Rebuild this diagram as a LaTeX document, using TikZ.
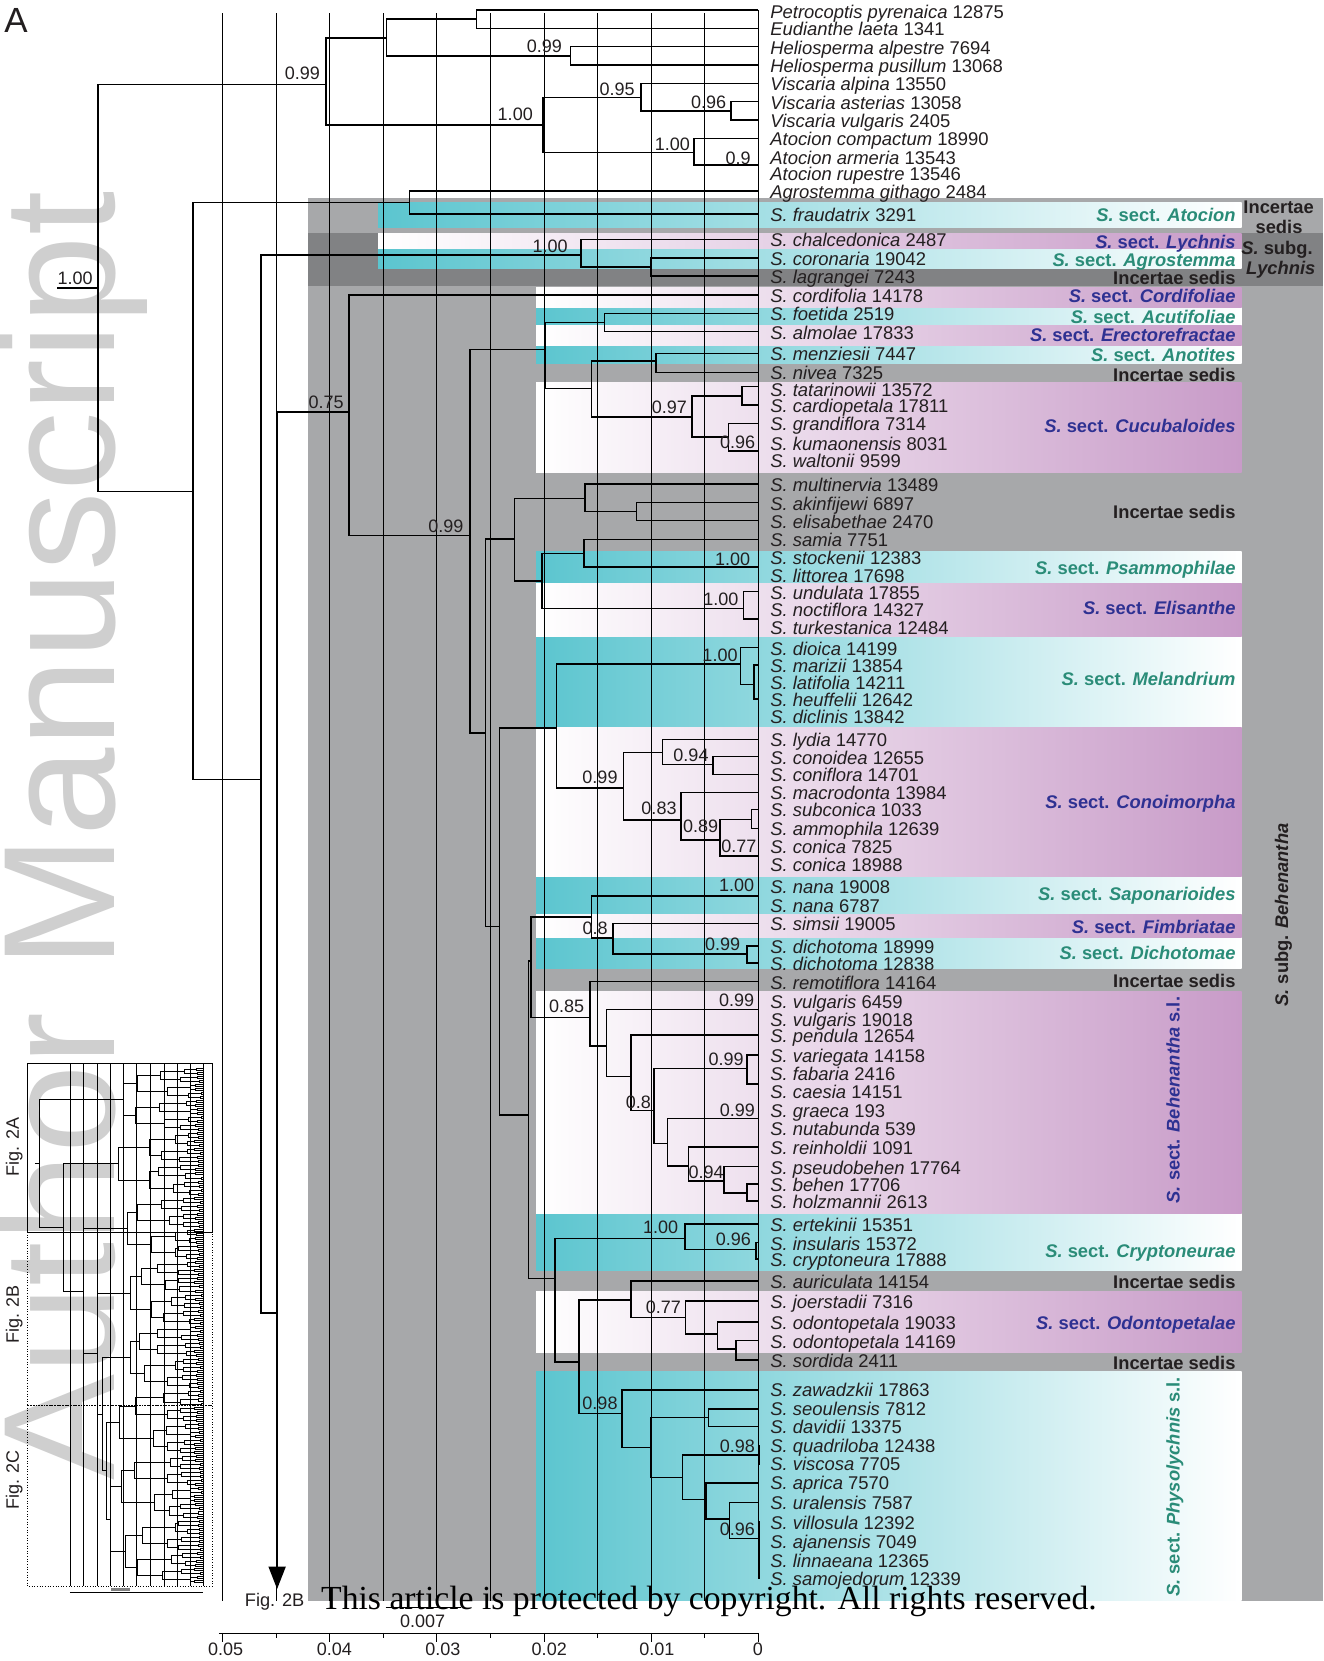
\documentclass[tikz,border=0pt]{standalone}
\usepackage{fontspec}
\setmainfont{Liberation Sans}
\newfontfamily\crserif{Liberation Serif}
\usetikzlibrary{arrows.meta}
\definecolor{lgray}{RGB}{167,168,170}
\definecolor{dgray}{RGB}{129,130,132}
\definecolor{cyanb}{RGB}{91,197,207}
\definecolor{purpb}{RGB}{200,155,200}
\definecolor{tealt}{RGB}{42,140,120}
\definecolor{bluet}{RGB}{46,49,146}
\definecolor{txt}{RGB}{35,31,32}
\definecolor{wm}{RGB}{207,207,207}
\newcommand\fs[1]{\fontsize{#1}{#1}\selectfont}
\pgfmathdeclarefunction{hr}{2}{\begingroup\pgfmathparse{mod(abs(sin(#1*57.29+#2*23.17))*997.3,1)}\pgfmathsmuggle\pgfmathresult\endgroup}
\pgfmathdeclarefunction{insa}{1}{\begingroup\pgfmathparse{183+7*hr(#1,1)}\pgfmathsmuggle\pgfmathresult\endgroup}
\pgfmathdeclarefunction{insb}{1}{\begingroup\pgfmathparse{168+12*hr(#1,2)}\pgfmathsmuggle\pgfmathresult\endgroup}
\pgfmathdeclarefunction{insc}{1}{\begingroup\pgfmathparse{148+18*hr(#1,3)}\pgfmathsmuggle\pgfmathresult\endgroup}
\pgfmathdeclarefunction{insd}{1}{\begingroup\pgfmathparse{126+20*hr(#1,4)}\pgfmathsmuggle\pgfmathresult\endgroup}
\pgfmathdeclarefunction{inse}{1}{\begingroup\pgfmathparse{110+14*hr(#1,5)}\pgfmathsmuggle\pgfmathresult\endgroup}
\begin{document}
\begin{tikzpicture}[x=1pt,y=-1pt,
  br/.style={line width=1.5pt},
  gline/.style={line width=0.75pt},
  leaf/.style={anchor=base west, inner sep=0pt, font=\fs{17.4}, text=txt},
  pp/.style={inner sep=0pt, font=\fs{17}, text=txt},
  sect/.style={anchor=base east, inner sep=0pt, font=\fs{17.3}\bfseries},
  inl/.style={line width=0.5pt},
]
\useasboundingbox (0,0) rectangle (1249,1568);
\fill[white] (0,0) rectangle (1249,1568);
% watermark
\node[rotate=90, anchor=base west, inner sep=0pt, text=wm, font=\fs{150}] (wmark) at (108,1398) {Author Manuscript};
% backgrounds
\fill[lgray] (291,187) rectangle (1249,1511);
\fill[dgray] (291,220) rectangle (1249,270);
\shade[left color=cyanb, right color=white] (357,191) rectangle (1172,215);
\shade[left color=white, right color=purpb] (357,220) rectangle (1172,236);
\shade[left color=cyanb, right color=white] (357,236) rectangle (1172,253);
\foreach \a/\b in {290/307.5, 326/343, 521/551, 600.5/687, 827/863, 885/914.5, 1146/1199, 1295/1511}
  \shade[left color=cyanb, right color=white] (506,\a) rectangle (1172,\b);
\foreach \a/\b in {271/290, 307.5/326, 361.5/446.5, 551/600.5, 687/827, 863/885, 936/1146, 1219/1277}
  \shade[left color=white, right color=purpb] (506,\a) rectangle (1172,\b);
% grid lines
\foreach \x in {210,260.6,311.2,361.8,412.4,463,513.6,564.2,614.8,665.4}
  \draw[gline] (\x,12.6) -- (\x,1511);
\draw[gline] (716,9.4) -- (716,1490);
% leaves
\foreach \i/\y/\dy/\nm/\nb in {
1/9.4/8.5/Petrocoptis pyrenaica/12875, 2/26.8/7/Eudianthe laeta/1341, 3/44/7/Heliosperma alpestre/7694,
4/61.4/7/Heliosperma pusillum/13068, 5/78.7/7/Viscaria alpina/13550, 6/96/7/Viscaria asterias/13058,
7/113.3/7/Viscaria vulgaris/2405, 8/130.6/7/Atocion compactum/18990, 9/148/7/Atocion armeria/13543,
10/163.7/7/Atocion rupestre/13546, 11/180.3/7/Agrostemma githago/2484, 12/202/7/S. fraudatrix/3291,
13/226/7/S. chalcedonica/2487, 14/243.3/7/S. coronaria/19042, 15/260.5/7/S. lagrangei/7243,
16/278.5/7/S. cordifolia/14178, 17/295.8/7/S. foetida/2519, 18/313.1/7/S. almolae/17833,
19/333.6/7/S. menziesii/7447, 20/351.5/7/S. nivea/7325, 21/365/9/S. tatarinowii/13572,
22/382.3/7/S. cardiopetala/17811, 23/399.6/7/S. grandiflora/7314, 24/418/7/S. kumaonensis/8031,
25/434/7/S. waltonii/9599, 26/457/7/S. multinervia/13489, 27/474.5/7/S. akinfijewi/6897,
28/491.5/7/S. elisabethae/2470, 29/509.2/7/S. samia/7751, 30/526/7/S. stockenii/12383,
31/543/7/S. littorea/17698, 32/558.5/7/S. undulata/17855, 33/575/7/S. noctiflora/14327,
34/592/7/S. turkestanica/12484, 35/611.4/7/S. dioica/14199, 36/627.8/7/S. marizii/13854,
37/644/7/S. latifolia/14211, 38/660/7/S. heuffelii/12642, 39/676/7/S. diclinis/13842,
40/698/7/S. lydia/14770, 41/714.3/7/S. conoidea/12655, 42/731/7/S. coniflora/14701,
43/748/7/S. macrodonta/13984, 44/764/7/S. subconica/1033, 45/782/7/S. ammophila/12639,
46/799/7/S. conica/7825, 47/816/7/S. conica/18988, 48/836/7/S. nana/19008,
49/854/7/S. nana/6787, 50/871.7/7/S. simsii/19005, 51/892.8/7/S. dichotoma/18999,
52/908.8/7/S. dichotoma/12838, 53/926.7/7/S. remotiflora/14164, 54/945/7/S. vulgaris/6459,
55/962/7/S. vulgaris/19018, 56/977/7/S. pendula/12654, 57/996/7/S. variegata/14158,
58/1013/7/S. fabaria/2416, 59/1030/7/S. caesia/14151, 60/1048/7/S. graeca/193,
61/1065/7/S. nutabunda/539, 62/1083/7/S. reinholdii/1091, 63/1101.3/7/S. pseudobehen/17764,
64/1117.7/7/S. behen/17706, 65/1133.5/7/S. holzmannii/2613, 66/1155.5/7/S. ertekinii/15351,
67/1173.1/7/S. insularis/15372, 68/1188.5/7/S. cryptoneura/17888, 69/1209.3/7/S. auriculata/14154,
70/1227.9/7/S. joerstadii/7316, 71/1247.7/7/S. odontopetala/19033, 72/1265.6/7/S. odontopetala/14169,
73/1283.9/7/S. sordida/2411, 74/1312.2/6.5/S. zawadzkii/17863, 75/1330.1/6.5/S. seoulensis/7812,
76/1346.8/6.5/S. davidii/13375, 77/1365/6.5/S. quadriloba/12438, 78/1382/6.5/S. viscosa/7705,
79/1399.7/6.5/S. aprica/7570, 80/1418.2/6.5/S. uralensis/7587, 81/1437/6.5/S. villosula/12392,
82/1455/6.5/S. ajanensis/7049, 83/1473/6.5/S. linnaeana/12365, 84/1490/6.5/S. samojedorum/12339}{
  \coordinate (l\i) at (716,\y);
  \node[leaf] (t\i) at (727,\y+\dy) {\textit{\nm} \nb};
}
% internal nodes
\coordinate (R) at (92.5,272);
\coordinate (Rs) at (54,272);
\coordinate (A1) at (307.5,79.6);
\coordinate (A2) at (364.7,35.6);
\coordinate (A3) at (450,18);
\coordinate (A4) at (538.6,52.6);
\coordinate (A5) at (512.6,118);
\coordinate (A6) at (605,91.9);
\coordinate (A7) at (690,104.8);
\coordinate (A8) at (655.3,144);
\coordinate (A9) at (716,156);
\coordinate (B1) at (182,464);
\coordinate (B2) at (386.7,191);
\coordinate (C1) at (246.5,736);
\coordinate (C2) at (548.2,240.7);
\coordinate (C3) at (614,251.8);
\coordinate (C4) at (261.6,1239.6);
\coordinate (arrtip) at (261.6,1500);
\coordinate (D1) at (329.5,389);
\coordinate (D2) at (443.7,505.7);
\coordinate (E1) at (514.5,329.8);
\coordinate (E2) at (570.5,304.6);
\coordinate (E3) at (558.5,366.6);
\coordinate (E4) at (619,340.8);
\coordinate (E5) at (653,393.4);
\coordinate (E6) at (700.2,373.8);
\coordinate (E7) at (687.6,412.8);
\coordinate (E8) at (716,425.8);
\coordinate (F1) at (458.2,691.7);
\coordinate (F2) at (485.6,509);
\coordinate (F3) at (552.3,470.4);
\coordinate (F4) at (601,483);
\coordinate (F5) at (511.4,548.5);
\coordinate (F6) at (551.3,522.4);
\coordinate (F7) at (716,535);
\coordinate (F8) at (701.7,574.3);
\coordinate (F9) at (716,584.4);
\coordinate (G1) at (471.4,874.8);
\coordinate (G2) at (525.5,687);
\coordinate (G3) at (699.2,627);
\coordinate (G4) at (711.8,646);
\coordinate (G5) at (716,660);
\coordinate (G6) at (588.5,743.6);
\coordinate (G7) at (625.3,710.2);
\coordinate (G8) at (672.8,721.5);
\coordinate (G9) at (643,774.1);
\coordinate (G10) at (679.7,793);
\coordinate (G11) at (709.6,773.5);
\coordinate (G12) at (716,808);
\coordinate (H1) at (498.8,1052.6);
\coordinate (H2) at (501.3,907.2);
\coordinate (H3) at (558.5,865.4);
\coordinate (H4) at (716,845.6);
\coordinate (H5) at (578.4,885.2);
\coordinate (H6) at (704.9,900.6);
\coordinate (I1) at (557,960.4);
\coordinate (I2) at (572.7,987.2);
\coordinate (I3) at (716,952.8);
\coordinate (I4) at (595.7,1016.4);
\coordinate (I5) at (617.4,1048.5);
\coordinate (I6) at (704.9,1008.5);
\coordinate (I7) at (716,1023.4);
\coordinate (I8) at (630.3,1079.3);
\coordinate (I9) at (716,1055.7);
\coordinate (I10) at (649.8,1100.7);
\coordinate (I11) at (683.5,1114.6);
\coordinate (I12) at (704.9,1126);
\coordinate (K1) at (524,1206.8);
\coordinate (K2) at (646.7,1169);
\coordinate (K3) at (713.7,1179.4);
\coordinate (L1) at (546.6,1285.5);
\coordinate (L2) at (595.7,1227.3);
\coordinate (L3) at (647.3,1243.6);
\coordinate (L4) at (677.5,1259.3);
\coordinate (L5) at (694.8,1273.2);
\coordinate (M1) at (586.9,1334.2);
\coordinate (M2) at (614.2,1366.6);
\coordinate (M3) at (668.7,1338.3);
\coordinate (M4) at (644.2,1394.6);
\coordinate (M5) at (716.5,1373.6);
\coordinate (M6) at (666.5,1415.4);
\coordinate (M7) at (688.5,1434);
\coordinate (M8) at (716.5,1452.2);
% branches
\foreach \c/\p in {A1/R,B1/R,A2/A1,A5/A1,A3/A2,A4/A2,l1/A3,l2/A3,l3/A4,l4/A4,
  A6/A5,A8/A5,l5/A6,A7/A6,l6/A7,l7/A7,l8/A8,A9/A8,l9/A9,l10/A9,
  B2/B1,C1/B1,l11/B2,l12/B2,C2/C1,C4/C1,l13/C2,C3/C2,l14/C3,l15/C3,D1/C4,
  l16/D1,D2/D1,E1/D2,F1/D2,E2/E1,E3/E1,l17/E2,l18/E2,E4/E3,E5/E3,l19/E4,l20/E4,
  E6/E5,E7/E5,l21/E6,l22/E6,l23/E7,E8/E7,l24/E8,l25/E8,
  F2/F1,G1/F1,F3/F2,F5/F2,l26/F3,F4/F3,l27/F4,l28/F4,F6/F5,F8/F5,l29/F6,F7/F6,
  l30/F7,l31/F7,l32/F8,F9/F8,l33/F9,l34/F9,
  G2/G1,H1/G1,G3/G2,G6/G2,l35/G3,G4/G3,l36/G4,G5/G4,l37/G5,l38/G5,l39/G5,
  G7/G6,G9/G6,l40/G7,G8/G7,l41/G8,l42/G8,l43/G9,G10/G9,G11/G10,G12/G10,
  l44/G11,l45/G11,l46/G12,l47/G12,
  H2/H1,K1/H1,H3/H2,I1/H2,H4/H3,H5/H3,l48/H4,l49/H4,l50/H5,H6/H5,l51/H6,l52/H6,
  l53/I1,I2/I1,I3/I2,I4/I2,l54/I3,l55/I3,l56/I4,I5/I4,I6/I5,I8/I5,l57/I6,I7/I6,
  l58/I7,l59/I7,I9/I8,I10/I8,l60/I9,l61/I9,l62/I10,I11/I10,l63/I11,I12/I11,
  l64/I12,l65/I12,
  K2/K1,L1/K1,l66/K2,K3/K2,l67/K3,l68/K3,L2/L1,M1/L1,l69/L2,L3/L2,l70/L3,L4/L3,
  l71/L4,L5/L4,l72/L5,l73/L5,
  l74/M1,M2/M1,M3/M2,M4/M2,l75/M3,l76/M3,M5/M4,M6/M4,l77/M5,l78/M5,
  l79/M6,M7/M6,l80/M7,M8/M7,l81/M8,l82/M8,l83/M8,l84/M8}
  \draw[br] (\c) -| (\p);
\draw[br] (Rs) -- (R);
\draw[br,-{Triangle[length=21pt,width=16pt]}] (C4) -- (arrtip);
% support values
\foreach \x/\y/\t in {70.9/262.8/1.00, 285.5/69.2/0.99, 513.9/44/0.99, 582.5/84.3/0.95,
  486.4/107.6/1.00, 669/96.6/0.96, 634.7/135.9/1.00, 696.9/149.5/0.9, 519.4/232.9/1.00,
  307.8/380.1/0.75, 631.9/384.5/0.97, 696.4/417.6/0.96, 421/497.2/0.99, 691.7/528/1.00,
  680.6/565.8/1.00, 679.7/618.3/1.00, 652.3/713/0.94, 566.4/733.8/0.99, 622.1/763.4/0.83,
  661.4/780.4/0.89, 697.6/799.3/0.77, 695.4/836.1/1.00, 561.7/876.4/0.8, 682.2/891.5/0.99,
  535/950.3/0.85, 695.4/944.7/0.99, 685.4/1000/0.99, 602.6/1041/0.8, 696/1047.9/0.99,
  666.5/1106.7/0.94, 623.7/1159/1.00, 692.3/1170/0.96, 626.2/1234.5/0.77,
  566.4/1324.8/0.98, 696/1365/0.98, 696/1443.4/0.96}
  \node[pp] at (\x,\y) {\t};
% section labels
\node[sect,text=tealt] (s1) at (1166.5,209.2) {\textit{S.} sect. \textit{Atocion}};
\node[sect,text=bluet] (s2) at (1166.5,234.2) {\textit{S.} sect. \textit{Lychnis}};
\node[sect,text=tealt] (s3) at (1166.5,251.2) {\textit{S.} sect. \textit{Agrostemma}};
\node[sect,text=txt] (s4) at (1166.5,269) {Incertae sedis};
\node[sect,text=bluet] (s5) at (1166.5,285.7) {\textit{S.} sect. \textit{Cordifoliae}};
\node[sect,text=tealt] (s6) at (1166.5,305.1) {\textit{S.} sect. \textit{Acutifoliae}};
\node[sect,text=bluet] (s7) at (1166.5,322.4) {\textit{S.} sect. \textit{Erectorefractae}};
\node[sect,text=tealt] (s8) at (1166.5,341.2) {\textit{S.} sect. \textit{Anotites}};
\node[sect,text=txt] (s9) at (1166.5,360.2) {Incertae sedis};
\node[sect,text=bluet] (s10) at (1166.5,408.3) {\textit{S.} sect. \textit{Cucubaloides}};
\node[sect,text=txt] (s11) at (1166.5,489.8) {Incertae sedis};
\node[sect,text=tealt] (s12) at (1166.5,542.7) {\textit{S.} sect. \textit{Psammophilae}};
\node[sect,text=bluet] (s13) at (1166.5,580.5) {\textit{S.} sect. \textit{Elisanthe}};
\node[sect,text=tealt] (s14) at (1166.5,647.5) {\textit{S.} sect. \textit{Melandrium}};
\node[sect,text=bluet] (s15) at (1166.5,763) {\textit{S.} sect. \textit{Conoimorpha}};
\node[sect,text=tealt] (s16) at (1166.5,850.1) {\textit{S.} sect. \textit{Saponarioides}};
\node[sect,text=bluet] (s17) at (1166.5,881.6) {\textit{S.} sect. \textit{Fimbriatae}};
\node[sect,text=tealt] (s18) at (1166.5,906.2) {\textit{S.} sect. \textit{Dichotomae}};
\node[sect,text=txt] (s19) at (1166.5,932.3) {Incertae sedis};
\node[sect,text=tealt] (s20) at (1166.5,1186.8) {\textit{S.} sect. \textit{Cryptoneurae}};
\node[sect,text=txt] (s21) at (1166.5,1216.1) {Incertae sedis};
\node[sect,text=bluet] (s22) at (1166.5,1255.4) {\textit{S.} sect. \textit{Odontopetalae}};
\node[sect,text=txt] (s23) at (1166.5,1293.2) {Incertae sedis};
\node[rotate=90,inner sep=0pt,font=\fs{17.3}\bfseries,text=bluet] (s24) at (1107.4,1038.5) {\textit{S.} sect. \textit{Behenantha} s.l.};
\node[rotate=90,inner sep=0pt,font=\fs{17.3}\bfseries,text=tealt] (s25) at (1109.2,1403.5) {\textit{S.} sect. \textit{Physolychnis} s.l.};
% right column
\node[anchor=base,inner sep=0pt,font=\fs{17.3}\bfseries,text=txt] (r1) at (1207,201.2) {Incertae};
\node[anchor=base,inner sep=0pt,font=\fs{17.3}\bfseries,text=txt] (r2) at (1207.4,220.2) {sedis};
\node[anchor=base,inner sep=0pt,font=\fs{17.3}\bfseries,text=txt] (r3) at (1205.5,240.7) {\textit{S.} subg.};
\node[anchor=base,inner sep=0pt,font=\fs{17.3}\bfseries,text=txt] (r4) at (1209,259.5) {\textit{Lychnis}};
\node[rotate=90,inner sep=0pt,font=\fs{17.3}\bfseries,text=txt] (r5) at (1211.6,863.8) {\textit{S.} subg. \textit{Behenantha}};
% panel letter
\node[anchor=base west,inner sep=0pt,font=\fs{33},text=txt] (pA) at (4,30.8) {A};
% inset overview
\foreach \x in {66.5,78.9,91.5,104.1,116.5,129.1,141.7,154.6,167,179.6,191.5}
  \draw[inl] (\x,1004) -- (\x,1497);
\def\ss{1.905}
\foreach \j in {0,...,127}{
  \pgfmathsetmacro\ya{1008+2*\j*\ss}
  \pgfmathsetmacro\yb{\ya+\ss}
  \pgfmathsetmacro\xx{insa(\j)}
  \draw[inl] (191.5,\ya) -| (\xx,\yb) -- (191.5,\yb);
}
\foreach \k in {0,...,63}{
  \pgfmathsetmacro\ya{1008+(4*\k+0.5)*\ss}
  \pgfmathsetmacro\yb{1008+(4*\k+2.5)*\ss}
  \pgfmathsetmacro\xx{insb(\k)}
  \pgfmathsetmacro\xp{insa(2*\k)}
  \pgfmathsetmacro\xq{insa(2*\k+1)}
  \draw[inl] (\xp,\ya) -| (\xx,\yb) -- (\xq,\yb);
}
\foreach \k in {0,...,31}{
  \pgfmathsetmacro\ya{1008+(8*\k+1.5)*\ss}
  \pgfmathsetmacro\yb{1008+(8*\k+5.5)*\ss}
  \pgfmathsetmacro\xx{insc(\k)}
  \pgfmathsetmacro\xp{insb(2*\k)}
  \pgfmathsetmacro\xq{insb(2*\k+1)}
  \draw[inl] (\xp,\ya) -| (\xx,\yb) -- (\xq,\yb);
}
\foreach \k in {0,...,15}{
  \pgfmathsetmacro\ya{1008+(16*\k+3.5)*\ss}
  \pgfmathsetmacro\yb{1008+(16*\k+11.5)*\ss}
  \pgfmathsetmacro\xx{insd(\k)}
  \pgfmathsetmacro\xp{insc(2*\k)}
  \pgfmathsetmacro\xq{insc(2*\k+1)}
  \draw[inl] (\xp,\ya) -| (\xx,\yb) -- (\xq,\yb);
}
\foreach \k in {0,...,7}{
  \pgfmathsetmacro\ya{1008+(32*\k+7.5)*\ss}
  \pgfmathsetmacro\yb{1008+(32*\k+23.5)*\ss}
  \pgfmathsetmacro\xx{inse(\k)}
  \pgfmathsetmacro\xp{insd(2*\k)}
  \pgfmathsetmacro\xq{insd(2*\k+1)}
  \draw[inl] (\xp,\ya) -| (\xx,\yb) -- (\xq,\yb);
  \coordinate (q\k) at (\xx,{1008+(32*\k+15.5)*\ss});
}
\coordinate (X6) at (104,1433.8);
\coordinate (X5) at (100,1388.1);
\coordinate (X4) at (97,1334.8);
\coordinate (X3) at (92,1277.6);
\coordinate (X2) at (78.7,1218.6);
\coordinate (X1) at (59.8,1158.5);
\coordinate (X0) at (36.8,1098);
\coordinate (X0s) at (33,1098);
\foreach \c/\p in {q6/X6,q7/X6,q5/X5,X6/X5,q4/X4,X5/X4,q3/X3,X4/X3,q2/X2,X3/X2,q1/X1,X2/X1,q0/X0,X1/X0}
  \draw[inl] (\c) -| (\p);
\draw[inl] (X0s) -- (X0);
\draw[inl,dotted] (25.4,1163) rectangle (200.5,1326.5);
\draw[inl,dotted] (25.4,1326.5) rectangle (200.5,1497);
\draw[line width=0.7pt] (25.4,1004) rectangle (200.5,1163);
\draw[inl] (66,1503) -- (192,1503);
\fill[gray] (104.8,1499.3) rectangle (122.7,1501.5);
\node[rotate=90,inner sep=0pt,font=\fs{17},text=txt] (f2a) at (13.5,1082.7) {Fig. 2A};
\node[rotate=90,inner sep=0pt,font=\fs{17},text=txt] (f2b) at (13.5,1241) {Fig. 2B};
\node[rotate=90,inner sep=0pt,font=\fs{17},text=txt] (f2c) at (13.5,1397) {Fig. 2C};
% arrow label
\node[anchor=base west,inner sep=0pt,font=\fs{17.2},text=txt] (fig2b) at (231,1516.5) {Fig. 2B};
% scale bar 0.007
\draw[gline] (364,1517.6) -- (435,1517.6);
\node[pp] (sc) at (399,1530.5) {0.007};
% copyright
\node[anchor=base west,inner sep=0pt,font=\crserif\fs{31.8}] (copy) at (303,1519) {This article is protected by copyright. All rights reserved.};
% axis
\draw[gline] (206.7,1541.5) -- (716,1541.5);
\foreach \k in {0,2,...,10} \draw[gline] ({716-\k*50.6},1541.5) -- ++(0,9);
\foreach \k in {1,3,...,9} \draw[gline] ({716-\k*50.6},1541.5) -- ++(0,5);
\foreach \x/\t in {213/0.05, 315.6/0.04, 418/0.03, 518.5/0.02, 620/0.01, 715.4/0}
  \node[pp,anchor=base] at (\x,1563) {\t};
\end{tikzpicture}
\end{document}
